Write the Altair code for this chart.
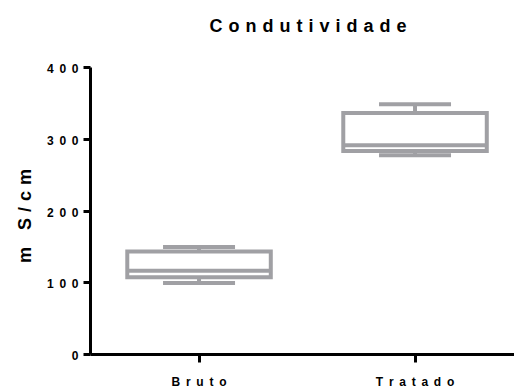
import altair as alt
import pandas as pd

# Box-and-whisker summary for each sample (mS/cm)
groups = ["Bruto", "Tratado"]
whisker_low = [99, 277]
quartile_1 = [107, 283]
median = [116, 291]
quartile_3 = [143, 336]
whisker_high = [149, 348]

y_ticks = [0, 100, 200, 300, 400]

GREY = "#a0a0a4"
FONT = "Liberation Sans"
NARROW_GAP = "\u00a0\u2009"   # letter gap for 12px text
WIDE_GAP = "\u2004"           # letter gap for 18px text


def spaced(text, gap):
    return gap.join(text)


df = pd.DataFrame({
    "group": groups,
    "lo": whisker_low,
    "q1": quartile_1,
    "mid": median,
    "q3": quartile_3,
    "hi": whisker_high,
})

label_expr = f"join(split(datum.label, ''), '{NARROW_GAP}')"

x_enc = alt.X(
    "group:N",
    sort=groups,
    title=None,
    scale=alt.Scale(type="band", paddingInner=0.3356, paddingOuter=0.1493, align=0.578),
    axis=alt.Axis(
        labelAngle=0,
        labelExpr=label_expr,
        labelFont=FONT,
        labelFontSize=12,
        labelFontWeight="bold",
        labelColor="black",
        labelBaseline="alphabetic",
        labelPadding=23,
        tickSize=8,
        tickWidth=3,
        tickColor="black",
        domainColor="black",
        domainWidth=3,
        grid=False,
    ),
)

y_scale = alt.Scale(domain=[0, 400], nice=False)
y_axis = alt.Axis(
    values=y_ticks,
    labelExpr=label_expr,
    labelFont=FONT,
    labelFontSize=12,
    labelFontWeight="bold",
    labelColor="black",
    labelPadding=5,
    labelOffset=1.5,
    tickSize=7,
    tickWidth=3,
    tickColor="black",
    domainColor="black",
    domainWidth=3,
    grid=False,
    titleFont=FONT,
    titleFontSize=18,
    titleFontWeight="bold",
    titleColor="black",
    titleAngle=-90,
    titleAlign="center",
    titleBaseline="alphabetic",
    titleX=-60,
    titleY=148.5,
)
y_title = spaced("m S/cm", WIDE_GAP)


def y(field):
    return alt.Y(f"{field}:Q", scale=y_scale, axis=y_axis, title=y_title)


base = alt.Chart(df).encode(x=x_enc)

box = base.mark_bar(fill="white", stroke=GREY, strokeWidth=4, opacity=1).encode(
    y=y("q1"), y2="q3:Q"
)
lower = base.mark_rule(color=GREY, strokeWidth=4).encode(y=y("lo"), y2="q1:Q")
upper = base.mark_rule(color=GREY, strokeWidth=4).encode(y=y("q3"), y2="hi:Q")
cap_lo = base.mark_tick(color=GREY, size=72, thickness=4, opacity=1).encode(y=y("lo"))
cap_hi = base.mark_tick(color=GREY, size=72, thickness=4, opacity=1).encode(y=y("hi"))
mid = base.mark_tick(color=GREY, size=143.5, thickness=4, opacity=1).encode(y=y("mid"))

chart = (
    alt.layer(lower, upper, box, cap_lo, cap_hi, mid)
    .properties(
        width=424,
        height=287,
        background="white",
        autosize=alt.AutoSizeParams(type="none"),
        padding={"left": 90, "top": 67, "right": 0, "bottom": 33},
        title=alt.TitleParams(
            spaced("Condutividade", WIDE_GAP),
            font=FONT,
            fontSize=18,
            fontWeight="bold",
            color="black",
            anchor="middle",
            frame="group",
            baseline="alphabetic",
            offset=13,
            dx=6,
        ),
    )
    .configure_view(stroke=None, strokeWidth=0)
)

chart.save("out.html", embed_options={"renderer": "svg", "actions": False})
